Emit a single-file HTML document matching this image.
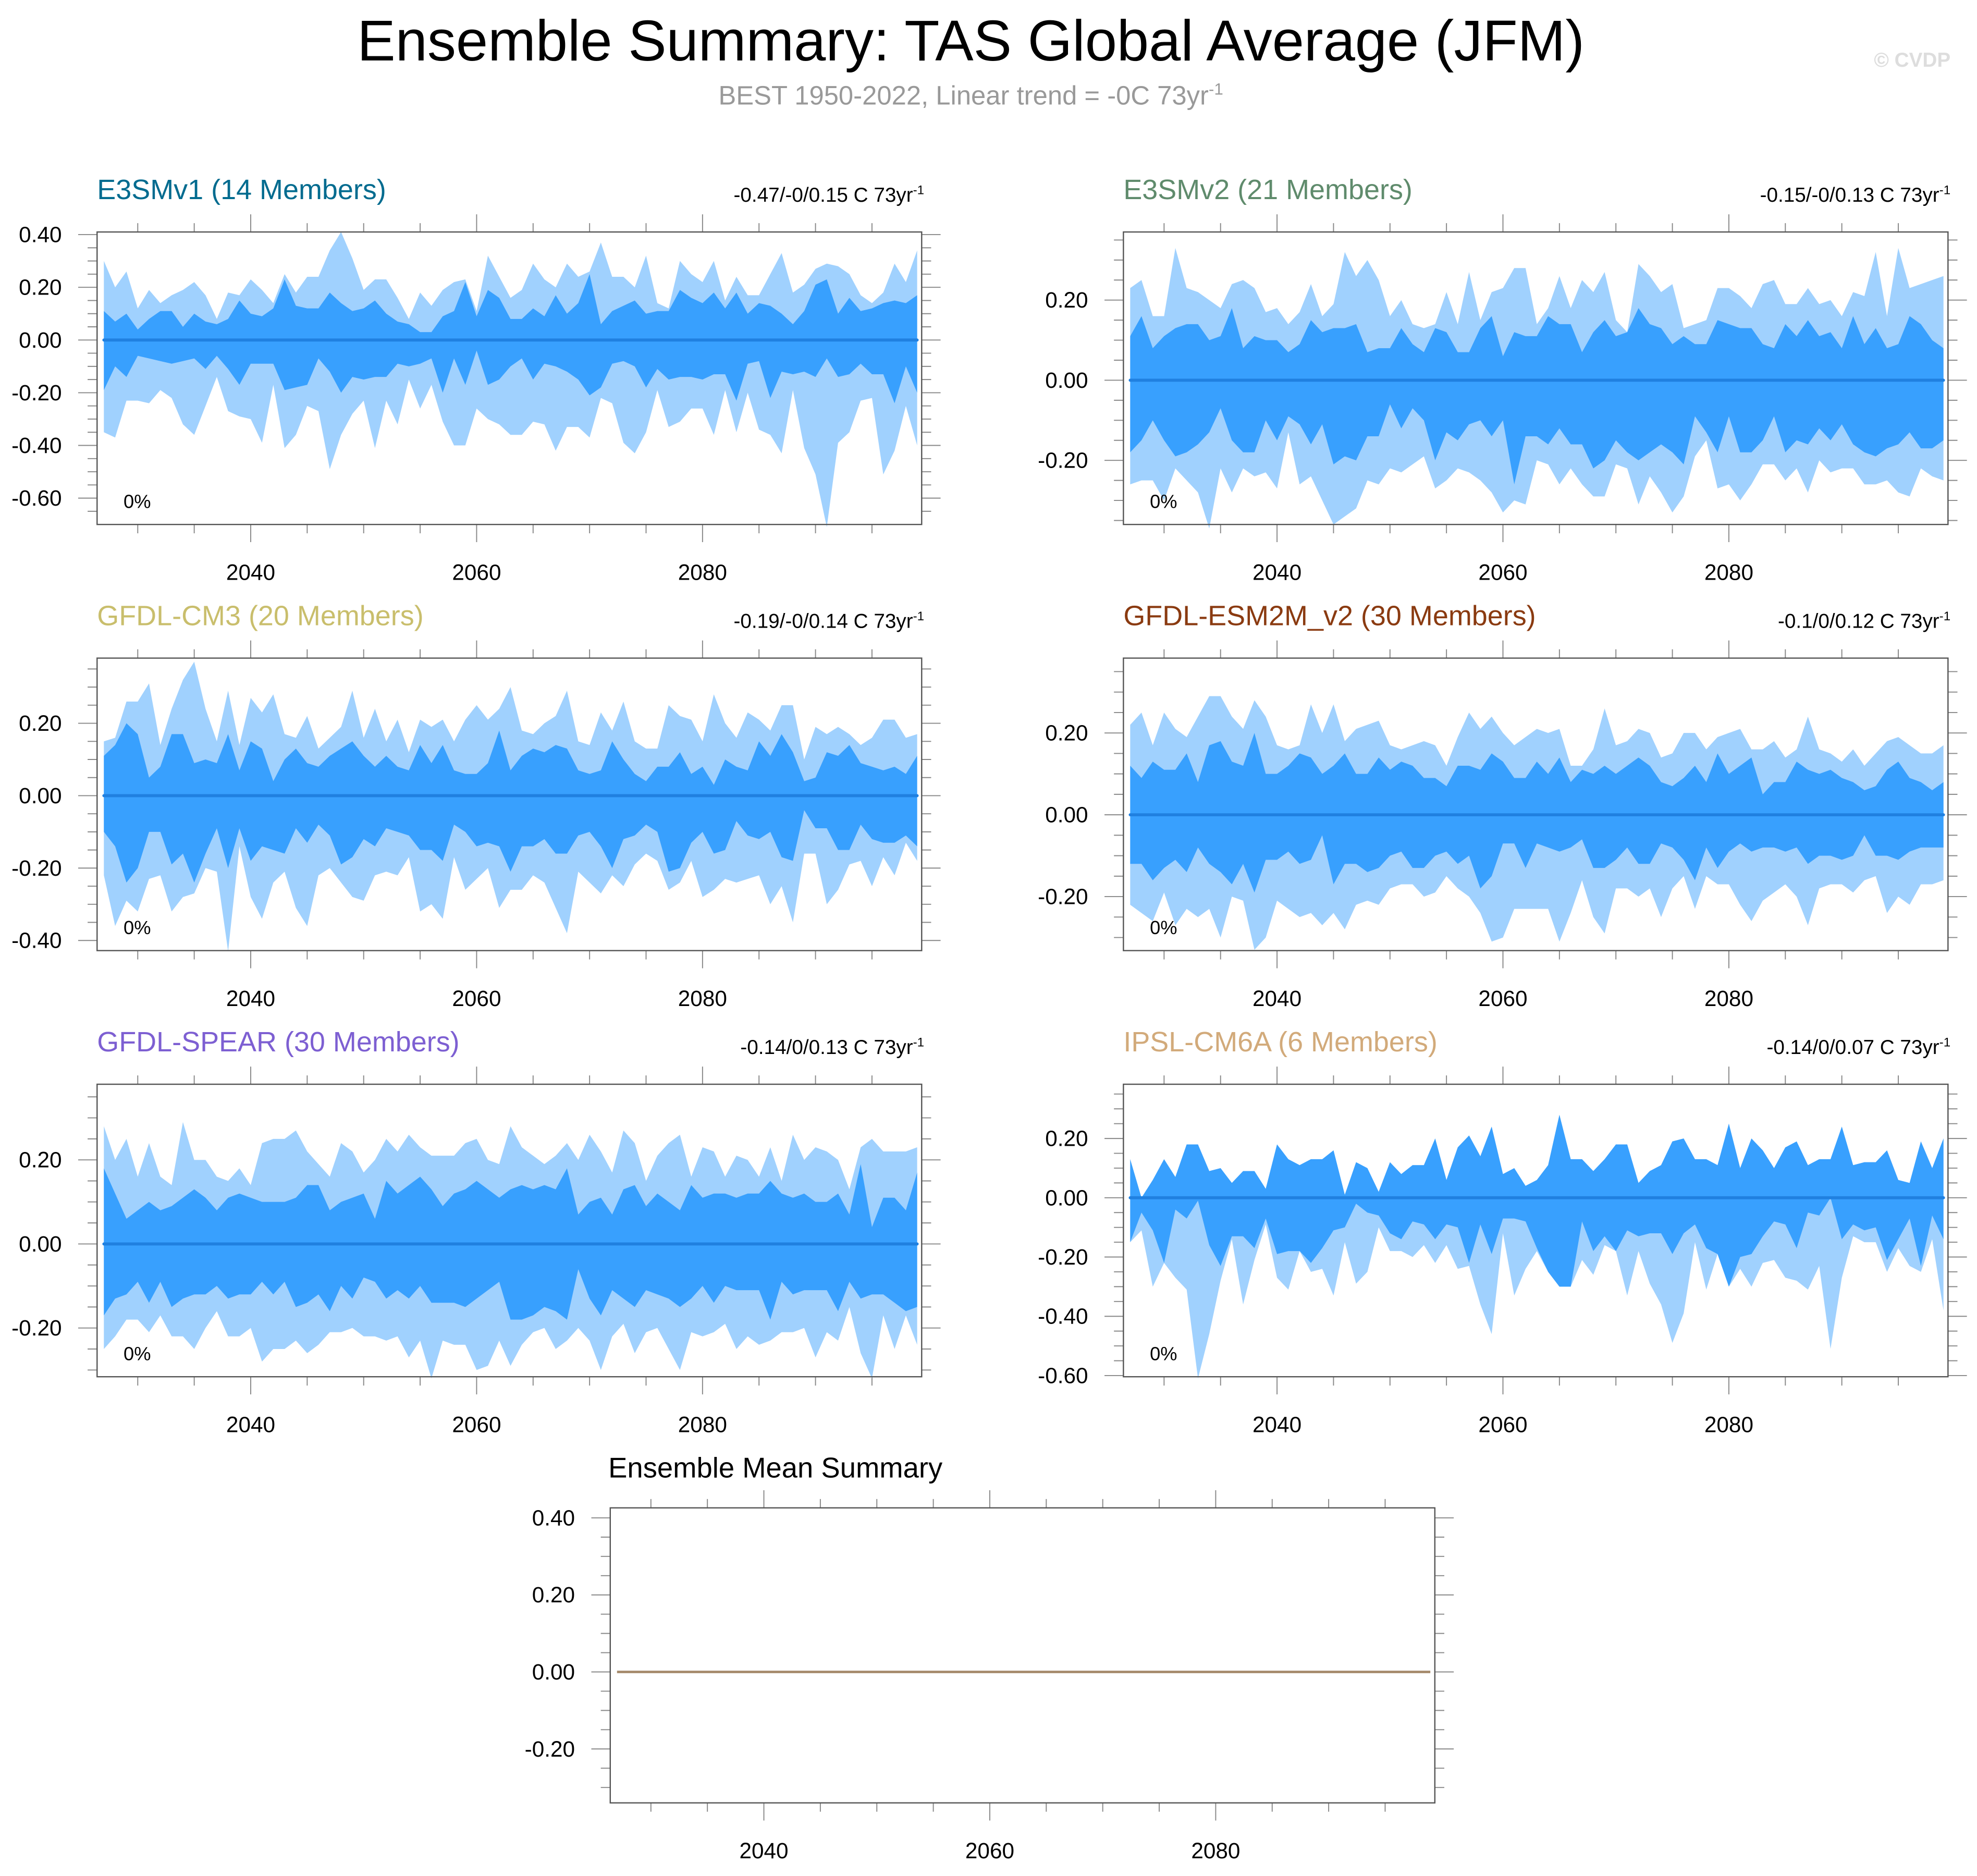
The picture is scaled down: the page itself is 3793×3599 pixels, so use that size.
<!DOCTYPE html>
<html><head><meta charset="utf-8"><style>
html,body{margin:0;padding:0;background:#fff;}
svg{display:block;}
text{font-family:"Liberation Sans",Arial,sans-serif;}
</style></head><body>
<svg id="chart" xmlns="http://www.w3.org/2000/svg" width="3793" height="3599" viewBox="0 0 1568 1488" preserveAspectRatio="none">
<rect x="0" y="0" width="1568" height="1488" fill="#fff"/>
<text x="770" y="48" font-size="45.5" text-anchor="middle" fill="#000">Ensemble Summary: TAS Global Average (JFM)</text>
<text x="770" y="83" font-size="21" text-anchor="middle" fill="#999">BEST 1950-2022, Linear trend = -0C 73yr<tspan dy="-8" font-size="13">-1</tspan></text>
<text x="1547" y="53" font-size="16" font-weight="bold" text-anchor="end" fill="#ddd">© CVDP</text>
</svg>
<script>
const years = [];
for (let y = 2027; y <= 2099; y++) years.push(y);

const e3smv1OuterHi = [.30,.20,.26,.12,.19,.14,.17,.19,.22,.17,.08,.18,.17,.23,.19,.14,.25,.18,.24,.24,.34,.41,.31,.19,.23,.23,.16,.08,.18,.13,.19,.22,.23,.11,.32,.24,.16,.19,.29,.23,.20,.29,.24,.26,.37,.24,.24,.20,.32,.14,.12,.30,.25,.22,.30,.15,.24,.17,.17,.25,.33,.18,.21,.27,.29,.28,.25,.17,.14,.18,.29,.22,.34];
const e3smv1InnerHi = [.11,.07,.10,.04,.08,.11,.11,.05,.10,.07,.06,.08,.15,.10,.09,.12,.23,.13,.12,.12,.18,.14,.11,.12,.15,.10,.07,.06,.03,.03,.09,.11,.22,.09,.19,.16,.08,.08,.12,.09,.17,.10,.14,.25,.06,.11,.13,.15,.10,.11,.11,.19,.16,.14,.18,.12,.18,.10,.14,.13,.10,.06,.11,.21,.23,.10,.16,.11,.12,.14,.15,.14,.17];
const e3smv1InnerLo = [-.19,-.10,-.14,-.06,-.07,-.08,-.09,-.08,-.07,-.11,-.06,-.11,-.17,-.09,-.09,-.09,-.19,-.18,-.17,-.07,-.12,-.20,-.14,-.15,-.14,-.14,-.09,-.10,-.09,-.07,-.20,-.07,-.17,-.04,-.17,-.15,-.10,-.07,-.15,-.09,-.10,-.12,-.15,-.21,-.18,-.09,-.08,-.10,-.18,-.11,-.15,-.14,-.14,-.15,-.13,-.13,-.23,-.09,-.08,-.22,-.12,-.13,-.12,-.14,-.07,-.14,-.13,-.09,-.13,-.13,-.24,-.10,-.20];
const e3smv1OuterLo = [-.35,-.37,-.23,-.23,-.24,-.19,-.22,-.32,-.36,-.25,-.14,-.27,-.29,-.30,-.39,-.17,-.41,-.36,-.25,-.27,-.49,-.36,-.28,-.23,-.41,-.23,-.32,-.15,-.26,-.17,-.31,-.40,-.40,-.26,-.30,-.32,-.36,-.36,-.31,-.32,-.42,-.33,-.33,-.37,-.22,-.24,-.39,-.43,-.35,-.19,-.33,-.31,-.26,-.26,-.36,-.19,-.35,-.20,-.34,-.36,-.43,-.19,-.41,-.51,-.71,-.39,-.35,-.23,-.22,-.51,-.42,-.25,-.40];

const e3smv2OuterHi = [.23,.25,.16,.16,.33,.23,.22,.20,.18,.24,.25,.23,.17,.18,.14,.17,.24,.16,.19,.32,.26,.30,.25,.16,.20,.14,.13,.14,.22,.14,.27,.15,.22,.23,.28,.28,.14,.18,.26,.18,.25,.22,.27,.15,.12,.29,.26,.22,.24,.13,.14,.15,.23,.23,.21,.18,.24,.25,.19,.19,.23,.19,.20,.16,.22,.21,.32,.16,.33,.23,.24,.25,.26];
const e3smv2InnerHi = [.11,.16,.08,.11,.13,.14,.14,.10,.11,.18,.08,.11,.10,.10,.07,.09,.15,.12,.13,.13,.14,.07,.08,.08,.13,.09,.07,.13,.12,.07,.07,.13,.16,.06,.12,.11,.11,.16,.14,.14,.07,.12,.15,.11,.12,.18,.14,.13,.09,.11,.09,.09,.15,.14,.13,.13,.09,.08,.14,.11,.15,.11,.12,.08,.16,.09,.13,.08,.09,.16,.14,.10,.08];
const e3smv2InnerLo = [-.18,-.15,-.10,-.15,-.19,-.18,-.16,-.13,-.07,-.15,-.18,-.18,-.10,-.15,-.09,-.11,-.16,-.11,-.21,-.19,-.20,-.14,-.14,-.06,-.12,-.07,-.10,-.20,-.13,-.15,-.11,-.10,-.14,-.10,-.26,-.14,-.14,-.16,-.12,-.16,-.16,-.22,-.20,-.15,-.18,-.20,-.18,-.16,-.18,-.21,-.09,-.13,-.18,-.09,-.18,-.18,-.15,-.09,-.18,-.15,-.16,-.12,-.15,-.11,-.16,-.18,-.19,-.17,-.16,-.13,-.17,-.17,-.15];
const e3smv2OuterLo = [-.26,-.25,-.25,-.30,-.22,-.25,-.28,-.37,-.22,-.28,-.22,-.24,-.23,-.27,-.13,-.26,-.24,-.30,-.36,-.34,-.32,-.25,-.26,-.22,-.23,-.21,-.19,-.27,-.25,-.22,-.23,-.25,-.28,-.33,-.30,-.31,-.20,-.21,-.26,-.22,-.26,-.29,-.29,-.21,-.22,-.31,-.24,-.28,-.33,-.29,-.19,-.15,-.27,-.26,-.30,-.26,-.21,-.21,-.25,-.22,-.28,-.20,-.23,-.22,-.22,-.26,-.26,-.25,-.28,-.29,-.22,-.24,-.25];

const cm3OuterHi = [.15,.16,.26,.26,.31,.14,.24,.32,.37,.24,.15,.29,.14,.27,.23,.28,.17,.16,.22,.13,.16,.19,.29,.16,.24,.15,.21,.12,.21,.19,.21,.15,.21,.25,.21,.24,.30,.18,.17,.20,.22,.29,.15,.14,.23,.18,.26,.15,.13,.13,.25,.22,.21,.15,.28,.20,.16,.23,.21,.18,.25,.25,.10,.19,.17,.19,.17,.14,.16,.21,.21,.16,.17];
const cm3InnerHi = [.11,.14,.20,.17,.05,.08,.17,.17,.09,.10,.09,.17,.07,.15,.13,.04,.10,.13,.09,.08,.11,.13,.15,.11,.08,.11,.08,.07,.14,.09,.14,.07,.06,.06,.09,.18,.07,.11,.13,.12,.14,.13,.07,.06,.07,.15,.10,.06,.04,.08,.08,.12,.06,.08,.03,.10,.08,.07,.15,.11,.17,.12,.04,.05,.12,.11,.14,.09,.08,.07,.08,.06,.11];
const cm3InnerLo = [-.10,-.14,-.24,-.20,-.10,-.10,-.19,-.16,-.24,-.16,-.09,-.20,-.09,-.18,-.14,-.15,-.16,-.09,-.13,-.08,-.11,-.19,-.17,-.12,-.14,-.09,-.10,-.11,-.15,-.15,-.18,-.08,-.10,-.14,-.13,-.14,-.21,-.14,-.14,-.12,-.16,-.16,-.11,-.10,-.14,-.20,-.12,-.11,-.08,-.10,-.21,-.20,-.13,-.10,-.16,-.15,-.07,-.11,-.12,-.10,-.17,-.18,-.04,-.09,-.09,-.15,-.15,-.08,-.12,-.13,-.13,-.11,-.14];
const cm3OuterLo = [-.22,-.36,-.29,-.32,-.23,-.22,-.32,-.28,-.27,-.20,-.21,-.43,-.14,-.28,-.34,-.24,-.21,-.31,-.36,-.22,-.20,-.24,-.28,-.29,-.22,-.21,-.22,-.17,-.32,-.30,-.34,-.17,-.26,-.23,-.20,-.31,-.26,-.26,-.22,-.24,-.31,-.38,-.21,-.24,-.27,-.22,-.25,-.19,-.16,-.18,-.26,-.24,-.18,-.28,-.26,-.23,-.24,-.23,-.22,-.30,-.25,-.35,-.16,-.16,-.30,-.26,-.19,-.18,-.25,-.17,-.22,-.13,-.18];

const esm2mOuterHi = [.22,.25,.17,.25,.21,.19,.24,.29,.29,.24,.21,.28,.24,.17,.16,.17,.27,.20,.27,.18,.21,.22,.23,.17,.16,.17,.18,.17,.12,.19,.25,.21,.24,.20,.17,.19,.21,.20,.21,.12,.12,.16,.26,.17,.18,.21,.20,.14,.15,.20,.20,.16,.19,.20,.21,.16,.16,.18,.14,.16,.24,.16,.15,.13,.16,.12,.15,.18,.19,.17,.15,.15,.17];
const esm2mInnerHi = [.12,.09,.13,.11,.11,.15,.08,.17,.18,.13,.12,.20,.10,.10,.12,.15,.14,.10,.12,.15,.10,.10,.14,.11,.13,.12,.09,.09,.07,.12,.12,.11,.15,.13,.09,.09,.13,.10,.14,.08,.11,.10,.12,.10,.12,.14,.12,.08,.07,.09,.12,.08,.15,.10,.12,.14,.05,.08,.08,.13,.11,.10,.11,.09,.08,.06,.07,.11,.13,.09,.08,.06,.08];
const esm2mInnerLo = [-.12,-.12,-.16,-.13,-.11,-.14,-.08,-.12,-.14,-.17,-.12,-.19,-.11,-.11,-.09,-.12,-.11,-.05,-.17,-.12,-.12,-.14,-.13,-.10,-.09,-.13,-.13,-.10,-.09,-.12,-.10,-.18,-.15,-.07,-.07,-.13,-.07,-.08,-.09,-.08,-.06,-.13,-.13,-.11,-.08,-.12,-.12,-.07,-.08,-.11,-.16,-.08,-.13,-.09,-.07,-.09,-.08,-.08,-.09,-.08,-.12,-.10,-.10,-.11,-.10,-.05,-.10,-.10,-.11,-.09,-.08,-.08,-.08];
const esm2mOuterLo = [-.22,-.24,-.26,-.19,-.27,-.23,-.25,-.23,-.30,-.20,-.21,-.33,-.30,-.21,-.23,-.25,-.24,-.27,-.24,-.28,-.22,-.21,-.22,-.18,-.17,-.17,-.20,-.19,-.15,-.18,-.20,-.24,-.31,-.30,-.23,-.23,-.23,-.23,-.31,-.24,-.16,-.25,-.29,-.18,-.18,-.20,-.18,-.25,-.18,-.15,-.23,-.15,-.17,-.17,-.22,-.26,-.21,-.19,-.17,-.20,-.27,-.18,-.17,-.17,-.19,-.16,-.15,-.24,-.20,-.22,-.17,-.17,-.16];

const spearOuterHi = [.28,.20,.25,.16,.24,.16,.14,.29,.20,.20,.16,.15,.18,.14,.24,.25,.25,.27,.22,.19,.16,.24,.22,.17,.20,.25,.22,.26,.23,.21,.21,.21,.24,.25,.20,.19,.28,.23,.21,.19,.21,.24,.20,.26,.22,.17,.27,.24,.15,.21,.24,.26,.16,.23,.22,.16,.21,.20,.16,.23,.15,.26,.20,.23,.22,.20,.13,.23,.25,.22,.22,.22,.23];
const spearInnerHi = [.18,.12,.06,.08,.10,.08,.09,.11,.13,.11,.08,.11,.12,.11,.10,.10,.10,.11,.14,.14,.08,.10,.11,.12,.06,.15,.12,.14,.16,.13,.09,.12,.13,.15,.13,.11,.13,.14,.13,.14,.13,.18,.07,.10,.11,.07,.13,.14,.09,.12,.10,.08,.14,.11,.12,.12,.11,.12,.12,.15,.12,.11,.12,.10,.10,.12,.07,.19,.04,.11,.11,.08,.17];
const spearInnerLo = [-.17,-.13,-.12,-.09,-.14,-.09,-.15,-.13,-.12,-.12,-.10,-.13,-.12,-.12,-.09,-.12,-.09,-.15,-.14,-.12,-.16,-.10,-.13,-.08,-.09,-.13,-.11,-.13,-.10,-.14,-.14,-.14,-.15,-.13,-.11,-.09,-.18,-.18,-.17,-.15,-.16,-.18,-.06,-.13,-.17,-.11,-.13,-.15,-.11,-.12,-.13,-.15,-.13,-.10,-.14,-.10,-.11,-.11,-.11,-.18,-.09,-.12,-.11,-.11,-.11,-.16,-.09,-.13,-.12,-.12,-.14,-.16,-.15];
const spearOuterLo = [-.25,-.22,-.18,-.18,-.21,-.17,-.22,-.22,-.25,-.20,-.16,-.22,-.22,-.20,-.28,-.25,-.25,-.23,-.26,-.24,-.21,-.21,-.20,-.22,-.22,-.23,-.22,-.27,-.23,-.32,-.23,-.24,-.24,-.30,-.29,-.23,-.29,-.24,-.21,-.20,-.25,-.23,-.20,-.23,-.30,-.22,-.19,-.26,-.21,-.20,-.25,-.30,-.21,-.22,-.21,-.19,-.25,-.22,-.24,-.23,-.21,-.21,-.20,-.27,-.21,-.23,-.15,-.26,-.32,-.17,-.25,-.17,-.24];

const ipslHi = [.13,.00,.06,.13,.07,.18,.18,.09,.10,.05,.09,.09,.03,.18,.13,.11,.13,.13,.16,.01,.12,.10,.02,.12,.08,.11,.11,.20,.06,.17,.21,.14,.24,.08,.10,.04,.06,.11,.28,.13,.13,.09,.13,.18,.18,.05,.09,.11,.19,.20,.13,.13,.11,.25,.10,.20,.16,.10,.17,.19,.11,.13,.13,.24,.11,.12,.12,.16,.06,.05,.19,.10,.20];
const ipslInnerLo = [-.15,-.05,-.11,-.22,-.04,-.07,-.01,-.16,-.23,-.13,-.13,-.17,-.07,-.19,-.18,-.18,-.22,-.17,-.11,-.10,-.02,-.05,-.06,-.12,-.14,-.08,-.09,-.14,-.09,-.10,-.22,-.09,-.19,-.07,-.07,-.08,-.17,-.25,-.30,-.30,-.08,-.18,-.13,-.18,-.11,-.13,-.12,-.12,-.19,-.12,-.09,-.17,-.19,-.30,-.20,-.19,-.13,-.08,-.09,-.17,-.05,-.06,0,-.14,-.09,-.11,-.10,-.21,-.14,-.07,-.23,-.06,-.14];
const ipslOuterLo = [-.15,-.11,-.30,-.22,-.27,-.31,-.61,-.46,-.28,-.14,-.36,-.21,-.09,-.27,-.31,-.18,-.25,-.24,-.33,-.15,-.29,-.25,-.10,-.18,-.18,-.20,-.16,-.22,-.16,-.24,-.23,-.36,-.46,-.12,-.33,-.24,-.18,-.25,-.30,-.30,-.21,-.26,-.16,-.18,-.33,-.18,-.29,-.36,-.49,-.39,-.15,-.31,-.19,-.30,-.24,-.30,-.22,-.21,-.27,-.28,-.31,-.23,-.51,-.27,-.13,-.15,-.15,-.25,-.17,-.23,-.25,-.14,-.38];

const ensembleMean = years.map(() => 0);

const panelTitles = ["E3SMv1 (14 Members)","E3SMv2 (21 Members)","GFDL-CM3 (20 Members)","GFDL-ESM2M_v2 (30 Members)","GFDL-SPEAR (30 Members)","IPSL-CM6A (6 Members)"];
const panelStats = ["-0.47/-0/0.15 C 73yr","-0.15/-0/0.13 C 73yr","-0.19/-0/0.14 C 73yr","-0.1/0/0.12 C 73yr","-0.14/0/0.13 C 73yr","-0.14/0/0.07 C 73yr"];
const xTickYears = [2040, 2060, 2080];

const NS = "http://www.w3.org/2000/svg";
const svg = document.getElementById("chart");
function mk(tag, attrs, parent) {
  const e = document.createElementNS(NS, tag);
  for (const k in attrs) e.setAttribute(k, attrs[k]);
  (parent || svg).appendChild(e);
  return e;
}

const panels = [
  {x0:77,x1:731,y0:184,y1:416,lo:-0.70,hi:0.41,ticks:[0.4,0.2,0,-0.2,-0.4,-0.6],color:"#006b8f",d:[e3smv1OuterHi,e3smv1InnerHi,e3smv1InnerLo,e3smv1OuterLo]},
  {x0:891,x1:1545,y0:184,y1:416,lo:-0.36,hi:0.37,ticks:[0.2,0,-0.2],color:"#5f8b6c",d:[e3smv2OuterHi,e3smv2InnerHi,e3smv2InnerLo,e3smv2OuterLo]},
  {x0:77,x1:731,y0:522,y1:754,lo:-0.428,hi:0.38,ticks:[0.2,0,-0.2,-0.4],color:"#c9be6c",d:[cm3OuterHi,cm3InnerHi,cm3InnerLo,cm3OuterLo]},
  {x0:891,x1:1545,y0:522,y1:754,lo:-0.332,hi:0.383,ticks:[0.2,0,-0.2],color:"#8a3a10",d:[esm2mOuterHi,esm2mInnerHi,esm2mInnerLo,esm2mOuterLo]},
  {x0:77,x1:731,y0:860,y1:1092,lo:-0.316,hi:0.38,ticks:[0.2,0,-0.2],color:"#7d5fd2",d:[spearOuterHi,spearInnerHi,spearInnerLo,spearOuterLo]},
  {x0:891,x1:1545,y0:860,y1:1092,lo:-0.604,hi:0.383,ticks:[0.2,0,-0.2,-0.4,-0.6],color:"#d2aa7a",d:[ipslHi,ipslHi,ipslInnerLo,ipslOuterLo]}
];

function fmt(v){ return (Math.abs(v)<1e-9?0:v).toFixed(2); }

function drawAxes(p, g) {
  const xs = yr => p.x0 + (yr - 2026.4) * (p.x1 - p.x0) / 73;
  const ys = v => p.y1 - (v - p.lo) * (p.y1 - p.y0) / (p.hi - p.lo);
  for (let yr = 2030; yr <= 2095; yr += 5) {
    const x = xs(yr), L = yr % 20 === 0 ? 14 : 7;
    const t1 = mk("line",{x1:x,x2:x,y1:p.y0,y2:p.y0-L,stroke:"#888","stroke-width":0.8},g);
    
    
    const t2 = mk("line",{x1:x,x2:x,y1:p.y1,y2:p.y1+L,stroke:"#888","stroke-width":0.8},g);
    
    
  }
  xTickYears.forEach(yr => {
    const t = mk("text",{x:xs(yr),y:p.y1+44,"font-size":17.5,"text-anchor":"middle",fill:"#000"},g);
    t.textContent = yr;
    
    
  });
  const start = Math.ceil(p.lo / 0.05), end = Math.floor(p.hi / 0.05);
  for (let i = start; i <= end; i++) {
    const v = i * 0.05, y = ys(v), major = (i % 4 === 0);
    const L = major ? 15 : 7.5;
    const a = mk("line",{x1:p.x0,x2:p.x0-L,y1:y,y2:y,stroke:"#888","stroke-width":0.8},g);
    
    
    const b = mk("line",{x1:p.x1,x2:p.x1+L,y1:y,y2:y,stroke:"#888","stroke-width":0.8},g);
    
    
  }
  p.ticks.forEach(v => {
    const t = mk("text",{x:p.x0-28,y:ys(v)+6,"font-size":17.5,"text-anchor":"end",fill:"#000"},g);
    t.textContent = fmt(v);
    
    
  });
  return {xs, ys};
}

panels.forEach((p, pi) => {
  const g = mk("g", {});
  
  
  const {xs, ys} = drawAxes(p, g);
  const [oh, ih, il, ol] = p.d;
  const band = (hiArr, loArr) => {
    const pts = [];
    years.forEach((yr, i) => pts.push(xs(yr).toFixed(2) + "," + ys(hiArr[i]).toFixed(2)));
    for (let i = years.length - 1; i >= 0; i--) pts.push(xs(years[i]).toFixed(2) + "," + ys(loArr[i]).toFixed(2));
    return pts.join(" ");
  };
  const outer = mk("polygon",{points:band(oh, ol),fill:"#a0d1fe"},g);
  
  
  const inner = mk("polygon",{points:band(ih, il),fill:"#38a0fe"},g);
  
  
  const mean = mk("polyline",{points:years.map((yr,i)=>xs(yr).toFixed(2)+","+ys(ensembleMean[i]).toFixed(2)).join(" "),fill:"none",stroke:"#2080e0","stroke-width":2.4,"stroke-linecap":"round"},g);
  
  
  const frame = mk("rect",{x:p.x0,y:p.y0,width:p.x1-p.x0,height:p.y1-p.y0,fill:"none",stroke:"#555","stroke-width":1},g);
  
  
  const title = mk("text",{x:p.x0,y:p.y0-26,"font-size":22.3,fill:p.color},g);
  title.textContent = panelTitles[pi];
  
  
  const stat = mk("text",{x:p.x1+2,y:p.y0-24,"font-size":16,"text-anchor":"end",fill:"#000"},g);
  stat.textContent = panelStats[pi];
  const sup = mk("tspan",{dy:-6,"font-size":10},stat);
  sup.textContent = "-1";
  
  
  const pct = mk("text",{x:p.x0+21,y:p.y1-13,"font-size":15,fill:"#000"},g);
  pct.textContent = "0%";
  
  
});

const p7 = {x0:484,x1:1138,y0:1196,y1:1430,lo:-0.34,hi:0.426,ticks:[0.4,0.2,0,-0.2]};
const g7 = mk("g", {});


const ax7 = drawAxes(p7, g7);
const line7 = mk("polyline",{points:years.map((yr,i)=>ax7.xs(yr).toFixed(2)+","+ax7.ys(ensembleMean[i]).toFixed(2)).join(" "),fill:"none",stroke:"#a58a6c","stroke-width":2},g7);


const frame7 = mk("rect",{x:p7.x0,y:p7.y0,width:p7.x1-p7.x0,height:p7.y1-p7.y0,fill:"none",stroke:"#555","stroke-width":1},g7);


const t7 = mk("text",{x:615,y:1172,"font-size":22.5,"text-anchor":"middle",fill:"#000"},g7);
t7.textContent = "Ensemble Mean Summary";


</script>
</body></html>
